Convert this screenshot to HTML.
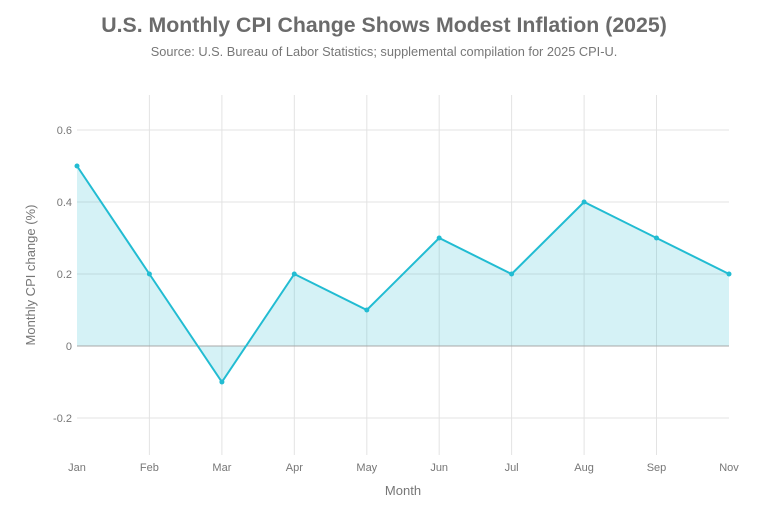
<!DOCTYPE html>
<html><head><style>body{margin:0;background:#fff}svg{display:block}</style></head><body>
<svg width="768" height="512" xmlns="http://www.w3.org/2000/svg" font-family="Liberation Sans, DejaVu Sans, sans-serif">
<text x="384" y="32" text-anchor="middle" font-size="21.3" font-weight="bold" fill="#6b6b6b">U.S. Monthly CPI Change Shows Modest Inflation (2025)</text>
<text x="384" y="56" text-anchor="middle" font-size="12.8" fill="#777">Source: U.S. Bureau of Labor Statistics; supplemental compilation for 2025 CPI-U.</text>
<g stroke="#e3e3e3" stroke-width="1">
<line x1="77" x2="729" y1="130" y2="130"/><line x1="77" x2="729" y1="202" y2="202"/><line x1="77" x2="729" y1="274" y2="274"/><line x1="77" x2="729" y1="418" y2="418"/>
<line x1="149.4" x2="149.4" y1="95" y2="455"/><line x1="221.9" x2="221.9" y1="95" y2="455"/><line x1="294.3" x2="294.3" y1="95" y2="455"/><line x1="366.8" x2="366.8" y1="95" y2="455"/><line x1="439.2" x2="439.2" y1="95" y2="455"/><line x1="511.6" x2="511.6" y1="95" y2="455"/><line x1="584.1" x2="584.1" y1="95" y2="455"/><line x1="656.5" x2="656.5" y1="95" y2="455"/>
</g>
<polygon fill="#2bbfd3" fill-opacity="0.2" points="77,346 77,166 149.4,274 221.9,382 294.3,274 366.8,310 439.2,238 511.6,274 584.1,202 656.5,238 729,274 729,346"/>
<line x1="77" x2="729" y1="346" y2="346" stroke="#a8a8a8" stroke-width="1"/>
<polyline fill="none" stroke="#22bcd2" stroke-width="2" points="77,166 149.4,274 221.9,382 294.3,274 366.8,310 439.2,238 511.6,274 584.1,202 656.5,238 729,274"/>
<g fill="#22bcd2"><circle cx="77" cy="166" r="2.5"/><circle cx="149.4" cy="274" r="2.5"/><circle cx="221.9" cy="382" r="2.5"/><circle cx="294.3" cy="274" r="2.5"/><circle cx="366.8" cy="310" r="2.5"/><circle cx="439.2" cy="238" r="2.5"/><circle cx="511.6" cy="274" r="2.5"/><circle cx="584.1" cy="202" r="2.5"/><circle cx="656.5" cy="238" r="2.5"/><circle cx="729" cy="274" r="2.5"/></g>
<g font-size="11" fill="#777" text-anchor="end">
<text x="72" y="134">0.6</text><text x="72" y="206">0.4</text><text x="72" y="278">0.2</text><text x="72" y="350">0</text><text x="72" y="422">-0.2</text>
</g>
<g font-size="11" fill="#777" text-anchor="middle">
<text x="77" y="471">Jan</text><text x="149.4" y="471">Feb</text><text x="221.9" y="471">Mar</text><text x="294.3" y="471">Apr</text><text x="366.8" y="471">May</text><text x="439.2" y="471">Jun</text><text x="511.6" y="471">Jul</text><text x="584.1" y="471">Aug</text><text x="656.5" y="471">Sep</text><text x="729" y="471">Nov</text>
</g>
<text x="403" y="495" text-anchor="middle" font-size="13" fill="#777">Month</text>
<text transform="translate(35,275) rotate(-90)" text-anchor="middle" font-size="13" fill="#777">Monthly CPI change (%)</text>
</svg>
</body></html>
